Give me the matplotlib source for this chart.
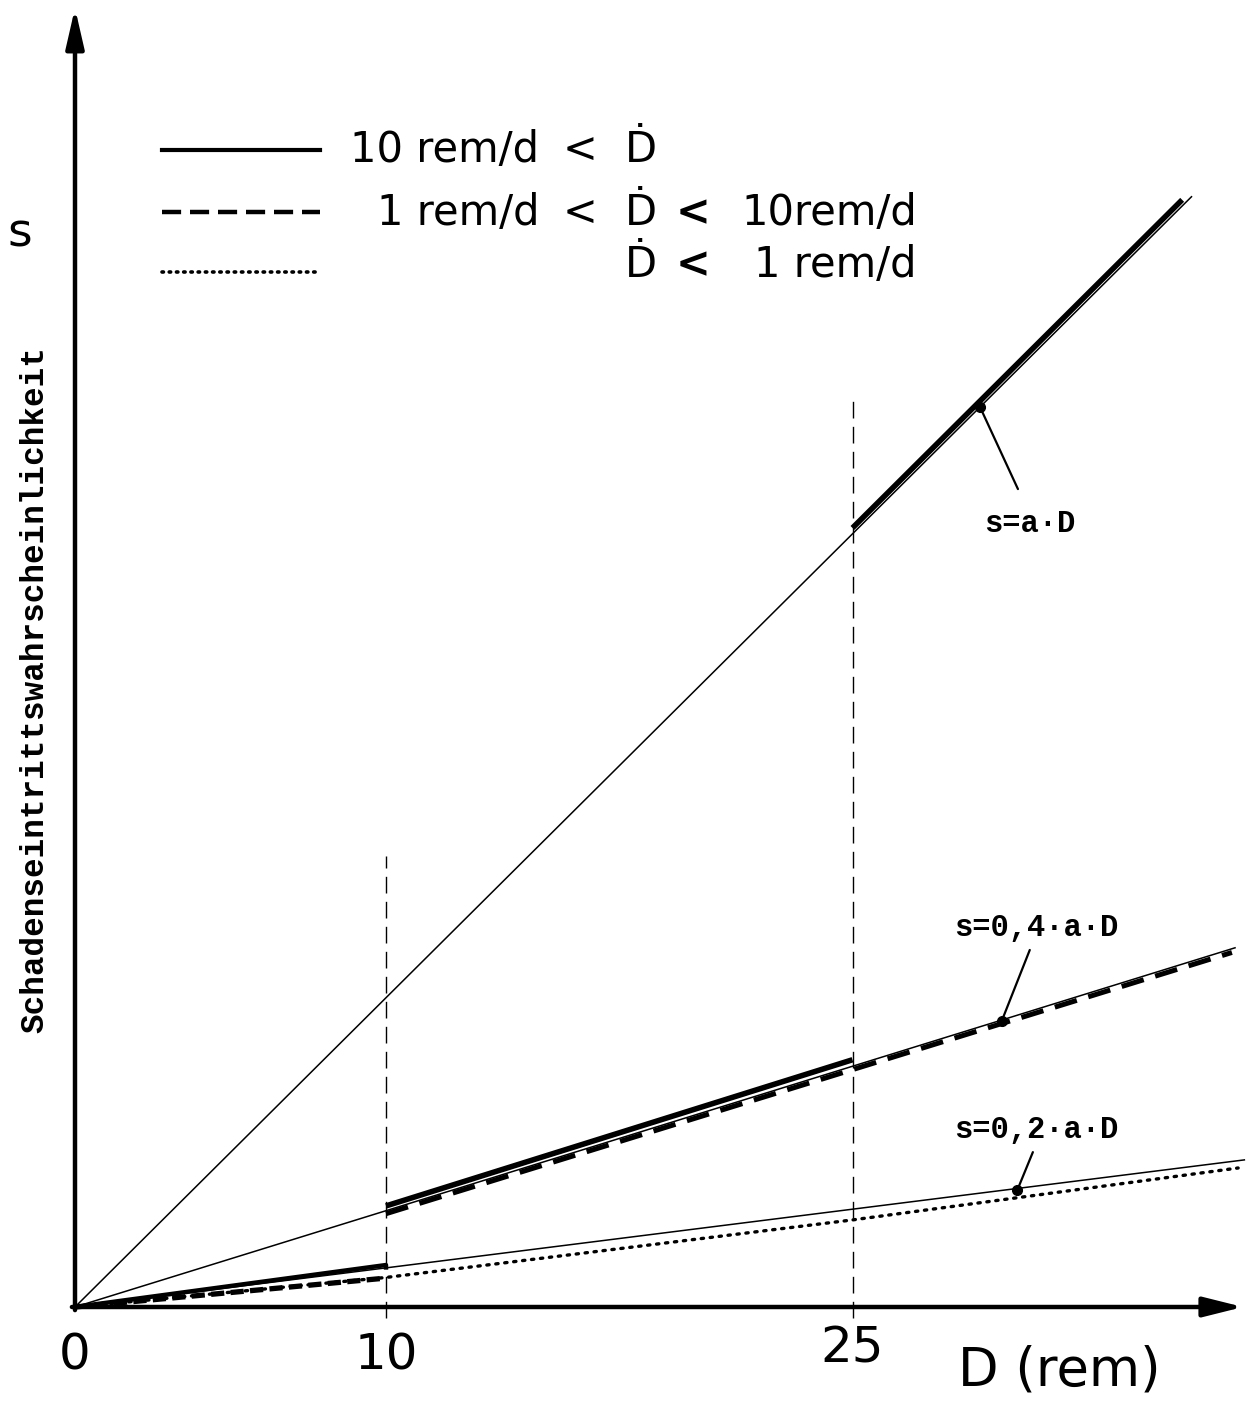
import matplotlib
matplotlib.use("Agg")
import matplotlib.pyplot as plt
from matplotlib.lines import Line2D

# ---------------- data (D in rem, s in units of a·D) ----------------
# s = a·D  (high dose rate)
D_upper_thin = [0.0, 35.9]
s_upper_thin = [0.0, 35.7]
D_upper_thick = [25.0, 35.6]
s_upper_thick = [25.05, 35.6]

# s = 0,4·a·D  (medium dose rate)
D_mid_thin = [0.0, 37.3]
s_mid_thin = [0.0, 11.55]
D_mid_thick = [10.0, 25.0]
s_mid_thick = [3.25, 7.95]
D_mid_dash = [10.0, 37.2]
s_mid_dash = [3.0, 11.4]

# s = 0,2·a·D  (low dose rate)
D_low_thin = [0.0, 37.6]
s_low_thin = [0.0, 4.73]
D_low_thick = [0.0, 10.0, 10.0]
s_low_thick = [0.0, 1.35, 1.2]
D_low_dash = [0.0, 10.0]
s_low_dash = [0.0, 0.93]
D_low_dot = [0.0, 10.0, 25.0, 37.4]
s_low_dot = [0.0, 0.95, 2.8, 4.47]

# threshold doses (vertical dashed lines)
D_marks = [10.0, 25.0]
s_marks_top = [14.5, 29.26]

# annotation points on the curves and labels
ann_D = [29.1, 29.8, 30.3]
ann_s = [28.94, 9.2, 3.76]
ann_labels = ["s=a·D", "s=0,4·a·D", "s=0,2·a·D"]

x_ticks = [0, 10, 25]
x_ticklabels = ["0", "10", "25"]

# ---------------- figure ----------------
W, H = 1247, 1403
fig = plt.figure(figsize=(W / 100, H / 100), dpi=100)
ax = fig.add_axes([0, 0, 1, 1])
PX = 31.1  # pixels per unit
X0, Y0 = 75, 1307
ax.set_xlim(-X0 / PX, (W - X0) / PX)
ax.set_ylim(-(H - Y0) / PX, Y0 / PX)
ax.axis("off")


def P(x, y):
    """pixel position -> figure fraction"""
    return x / W, 1 - y / H


thin = 1.1
thick = 4.0
k = "black"

# vertical dashed threshold lines
for d, top in zip(D_marks, s_marks_top):
    ax.plot([d, d], [-0.35, top], color=k, lw=1.0, dashes=(12, 6), solid_capstyle="butt")

# upper line
ax.plot(D_upper_thin, s_upper_thin, color=k, lw=thin)
ax.plot(D_upper_thick, s_upper_thick, color=k, lw=thick, solid_capstyle="butt")

# middle line
ax.plot(D_mid_thin, s_mid_thin, color=k, lw=thin)
ax.plot(D_mid_thick, s_mid_thick, color=k, lw=thick, solid_capstyle="butt")
ax.plot(D_mid_dash, s_mid_dash, color=k, lw=3.6, dashes=(4.6, 2.4), dash_capstyle="butt")

# lower line
ax.plot(D_low_thin, s_low_thin, color=k, lw=thin)
ax.plot(D_low_thick, s_low_thick, color=k, lw=3.2, solid_capstyle="butt")
ax.plot(D_low_dash, s_low_dash, color=k, lw=3.8, dashes=(2.5, 1.2), dash_capstyle="butt")
ax.plot(D_low_dot, s_low_dot, color=k, lw=2.4, dashes=(0.7, 2.0), dash_capstyle="round")

# annotation dots, leader lines and labels
ax.plot(ann_D, ann_s, "o", color=k, ms=7)
leader_ends = [(30.32, 26.3), (30.7, 11.48), (30.8, 4.98)]
label_pix = [(1030, 524), (1036, 928), (1036, 1130)]
for d, s, (ld, ls), lab, (lx, ly) in zip(ann_D, ann_s, leader_ends, ann_labels, label_pix):
    ax.annotate("", xy=(d, s), xytext=(ld, ls),
                arrowprops=dict(arrowstyle="-", lw=1.6, color=k, shrinkA=0, shrinkB=0))
    fig.text(*P(lx, ly), lab, ha="center", va="center", family="Liberation Mono",
             fontweight="bold", fontsize=22)

# axes with arrows
ax.annotate("", xy=(0, 41.77), xytext=(0, -0.1),
            arrowprops=dict(arrowstyle="-|>,head_length=2.4,head_width=0.55", lw=3.2,
                            color=k, shrinkA=0, shrinkB=0))
ax.annotate("", xy=(37.56, 0), xytext=(-0.1, 0),
            arrowprops=dict(arrowstyle="-|>,head_length=2.4,head_width=0.6", lw=3.2,
                            color=k, shrinkA=0, shrinkB=0))

sans = ["DejaVu Sans"]
# tick labels
for t, lab in zip(x_ticks, x_ticklabels):
    ax.text(t, -1.55 if t != 25 else -1.32, lab, ha="center", va="center",
            family=sans, fontsize=36)
fig.text(*P(958, 1385), "D (rem)", ha="left", va="baseline", family=sans, fontsize=38)
fig.text(*P(20, 234), "s", ha="center", va="center", family=sans, fontsize=34)
fig.text(*P(35, 690), "Schadenseintrittswahrscheinlichkeit", rotation=90, ha="center",
         va="center", family="Liberation Mono", fontweight="bold", fontsize=23.5)

# legend
lx0, lx1 = P(162, 0)[0], P(320, 0)[0]
fig.add_artist(Line2D([lx0, lx1], [P(0, 150)[1]] * 2, color=k, lw=3.0,
                      transform=fig.transFigure))
fig.add_artist(Line2D([lx0, lx1], [P(0, 212)[1]] * 2, color=k, lw=3.2, dashes=(4.3, 2.0),
                      transform=fig.transFigure))
fig.add_artist(Line2D([lx0, lx1], [P(0, 272)[1]] * 2, color=k, lw=2.6, dashes=(0.4, 1.6),
                      dash_capstyle="round", transform=fig.transFigure))

fs = 30
for (x, y), txt, ha, bold in [
    ((350, 162), "10 rem/d", "left", False),
    ((580, 162), "<", "center", False),
    ((625, 162), "Ḋ", "left", False),
    ((377, 225), "1 rem/d", "left", False),
    ((580, 225), "<", "center", False),
    ((625, 225), "Ḋ", "left", False),
    ((693, 225), "<", "center", True),
    ((917, 225), "10rem/d", "right", False),
    ((625, 277), "Ḋ", "left", False),
    ((693, 277), "<", "center", True),
    ((917, 277), "1 rem/d", "right", False),
]:
    fig.text(*P(x, y), txt, ha=ha, va="baseline", family=sans, fontsize=fs,
             fontweight="bold" if bold else "normal")

fig.savefig("out.png", dpi=100, facecolor="white")
